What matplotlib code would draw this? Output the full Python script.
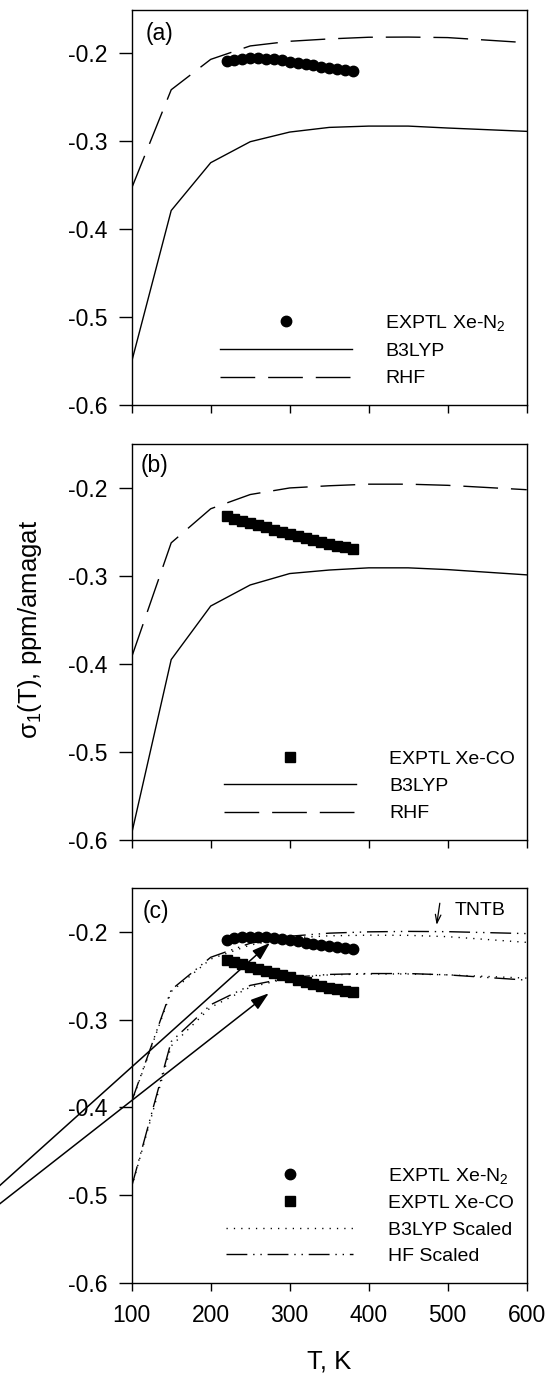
import numpy as np
import matplotlib
matplotlib.use("Agg")
import matplotlib.pyplot as plt
from matplotlib.lines import Line2D
from matplotlib.ticker import FixedLocator, FormatStrFormatter

plt.rcParams.update({
    "font.family": ["Liberation Sans", "DejaVu Sans"],
    "mathtext.fontset": "custom",
    "mathtext.rm": "Liberation Sans",
    "mathtext.it": "Liberation Sans:italic",
    "mathtext.bf": "Liberation Sans:bold",
    "axes.unicode_minus": False,
    "axes.linewidth": 1.0,
})

# ---------------- data ----------------
T_calc = [100, 150, 200, 250, 300, 350, 400, 450, 500, 600]

# panel (a) Xe-N2
b3lyp_n2 = [-0.551, -0.379, -0.3245, -0.3006, -0.2896, -0.2843, -0.2828, -0.2828, -0.2850, -0.2888]
rhf_n2 = [-0.3534, -0.2414, -0.2068, -0.1915, -0.1862, -0.1835, -0.1816, -0.1814, -0.1820, -0.1878]

# panel (b) Xe-CO
b3lyp_co = [-0.593, -0.395, -0.334, -0.310, -0.297, -0.293, -0.2905, -0.2905, -0.2925, -0.2985]
rhf_co = [-0.392, -0.262, -0.2232, -0.207, -0.1995, -0.197, -0.1952, -0.1952, -0.1965, -0.2015]

# experimental
T_exptl = [220, 230, 240, 250, 260, 270, 280, 290, 300, 310, 320, 330, 340, 350, 360, 370, 380]
exptl_n2 = [-0.2088, -0.2072, -0.2062, -0.2057, -0.2056, -0.2060, -0.2068, -0.2080, -0.2094,
            -0.2108, -0.2122, -0.2136, -0.2150, -0.2163, -0.2175, -0.2186, -0.2196]
exptl_co = [-0.2320, -0.2345, -0.2370, -0.2395, -0.2420, -0.2445, -0.2470, -0.2495, -0.2520,
            -0.2545, -0.2568, -0.2592, -0.2614, -0.2634, -0.2653, -0.2670, -0.2686]

# panel (c) scaled
hf_scaled_n2 = [-0.393, -0.266, -0.229, -0.213, -0.205, -0.2015, -0.2000, -0.1995, -0.1998, -0.2020]
b3lyp_scaled_n2 = [-0.394, -0.268, -0.231, -0.215, -0.207, -0.2045, -0.2038, -0.2040, -0.2055, -0.2120]
hf_scaled_co = [-0.490, -0.325, -0.283, -0.261, -0.252, -0.2485, -0.2475, -0.2475, -0.2490, -0.2550]
b3lyp_scaled_co = [-0.491, -0.330, -0.286, -0.263, -0.2525, -0.2490, -0.2480, -0.2480, -0.2490, -0.2527]

x_ticks = [100, 200, 300, 400, 500, 600]
y_ticks = [-0.6, -0.5, -0.4, -0.3, -0.2]

# ---------------- styles ----------------
LW = 1.0
DASH_RHF = (0, (25.0, 9.3))
DOT = (0, (0.9, 4.4))
DASHDOTDOT = (0, (15, 4.2, 1.0, 4.2, 1.0, 4.2))
MS_C = 7.5
MS_S = 6.6
LEG_FS = 14.0
TICK_FS = 16.5
LAB_FS = 18.5

fig = plt.figure(figsize=(5.49, 13.77), dpi=100)
left, width, height = 0.2399, 0.7195, 0.2869
ax_a = fig.add_axes([left, 0.7062, width, height])
ax_b = fig.add_axes([left, 0.3903, width, height])
ax_c = fig.add_axes([left, 0.06826, width, height])

for ax in (ax_a, ax_b, ax_c):
    ax.set_xlim(100, 600)
    ax.set_ylim(-0.6, -0.15)
    ax.xaxis.set_major_locator(FixedLocator(x_ticks))
    ax.yaxis.set_major_locator(FixedLocator(y_ticks))
    ax.yaxis.set_major_formatter(FormatStrFormatter("%.1f"))
    ax.tick_params(axis="y", direction="out", length=9.3, width=1.0, labelsize=TICK_FS, pad=8.0)
    ax.tick_params(axis="x", direction="out", length=5.8, width=1.0, labelsize=TICK_FS, pad=9.5)
    ax.tick_params(top=False, right=False)

ax_a.tick_params(axis="x", labelbottom=False)
ax_b.tick_params(axis="x", labelbottom=False)

# ---- panel (a)
ax_a.plot(T_calc, b3lyp_n2, color="black", lw=LW, ls="-")
ax_a.plot(T_calc, rhf_n2, color="black", lw=LW, ls=DASH_RHF)
ax_a.plot(T_exptl, exptl_n2, ls="none", marker="o", ms=MS_C, color="black", zorder=5)
ax_a.text(0.034, 0.968, "(a)", transform=ax_a.transAxes, fontsize=TICK_FS, va="top", ha="left")

h_a = [Line2D([], [], ls="none", marker="o", ms=MS_C, color="black"),
       Line2D([], [], ls="-", lw=LW, color="black"),
       Line2D([], [], ls=DASH_RHF, lw=LW, color="black")]
ax_a.legend(h_a, ["EXPTL Xe-N$_2$", "B3LYP", "RHF"], loc="lower left",
            bbox_to_anchor=(211.5, -0.5805), bbox_transform=ax_a.transData,
            frameon=False, fontsize=LEG_FS, handlelength=6.8, handletextpad=1.7,
            labelspacing=0.5, borderpad=0, borderaxespad=0, numpoints=1)

# ---- panel (b)
ax_b.plot(T_calc, b3lyp_co, color="black", lw=LW, ls="-")
ax_b.plot(T_calc, rhf_co, color="black", lw=LW, ls=DASH_RHF)
ax_b.plot(T_exptl, exptl_co, ls="none", marker="s", ms=MS_S, color="black", zorder=5)
ax_b.text(0.022, 0.975, "(b)", transform=ax_b.transAxes, fontsize=TICK_FS, va="top", ha="left")

h_b = [Line2D([], [], ls="none", marker="s", ms=MS_S, color="black"),
       Line2D([], [], ls="-", lw=LW, color="black"),
       Line2D([], [], ls=DASH_RHF, lw=LW, color="black")]
ax_b.legend(h_b, ["EXPTL Xe-CO", "B3LYP", "RHF"], loc="lower left",
            bbox_to_anchor=(217, -0.5805), bbox_transform=ax_b.transData,
            frameon=False, fontsize=LEG_FS, handlelength=6.8, handletextpad=1.7,
            labelspacing=0.49, borderpad=0, borderaxespad=0, numpoints=1)
ax_b.set_ylabel("σ$_1$(T), ppm/amagat", fontsize=LAB_FS)
ax_b.yaxis.set_label_coords(-0.222, 0.532)

# ---- panel (c)
ax_c.plot(T_calc, b3lyp_scaled_n2, color="black", lw=LW, ls=DOT)
ax_c.plot(T_calc, b3lyp_scaled_co, color="black", lw=LW, ls=DOT)
ax_c.plot(T_calc, hf_scaled_n2, color="black", lw=LW, ls=DASHDOTDOT)
ax_c.plot(T_calc, hf_scaled_co, color="black", lw=LW, ls=DASHDOTDOT)
ax_c.plot(T_exptl, exptl_n2, ls="none", marker="o", ms=MS_C, color="black", zorder=5)
ax_c.plot(T_exptl, exptl_co, ls="none", marker="s", ms=MS_S, color="black", zorder=5)
ax_c.text(0.028, 0.97, "(c)", transform=ax_c.transAxes, fontsize=TICK_FS, va="top", ha="left")

# TNTB marker
ax_c.annotate("", xy=(486, -0.1921), xytext=(490, -0.1674),
              arrowprops=dict(arrowstyle="->,head_length=0.6,head_width=0.2", lw=0.9,
                              color="black", shrinkA=0, shrinkB=0))
ax_c.text(509, -0.1758, "TNTB", fontsize=LEG_FS, va="center", ha="left")

# long arrows
arrow_props = dict(arrowstyle="-|>,head_length=1.1,head_width=0.36", lw=1.1, color="black",
                   shrinkA=0, shrinkB=0, mutation_scale=10)
ax_c.annotate("", xy=(275.0, -0.2125), xytext=(-70.0, -0.4914),
              arrowprops=arrow_props, annotation_clip=False)
ax_c.annotate("", xy=(273.5, -0.2700), xytext=(-70.0, -0.5119),
              arrowprops=arrow_props, annotation_clip=False)

h_c = [Line2D([], [], ls="none", marker="o", ms=MS_C, color="black"),
       Line2D([], [], ls="none", marker="s", ms=MS_S, color="black"),
       Line2D([], [], ls=DOT, lw=LW, color="black"),
       Line2D([], [], ls=DASHDOTDOT, lw=LW, color="black")]
ax_c.legend(h_c, ["EXPTL Xe-N$_2$", "EXPTL Xe-CO", "B3LYP Scaled", "HF Scaled"], loc="lower left",
            bbox_to_anchor=(219.5, -0.5795), bbox_transform=ax_c.transData,
            frameon=False, fontsize=LEG_FS, handlelength=6.55, handletextpad=1.8,
            labelspacing=0.45, borderpad=0, borderaxespad=0, numpoints=1)
ax_c.set_xlabel("T, K", fontsize=LAB_FS, labelpad=16)

fig.savefig("out.png", dpi=100)
